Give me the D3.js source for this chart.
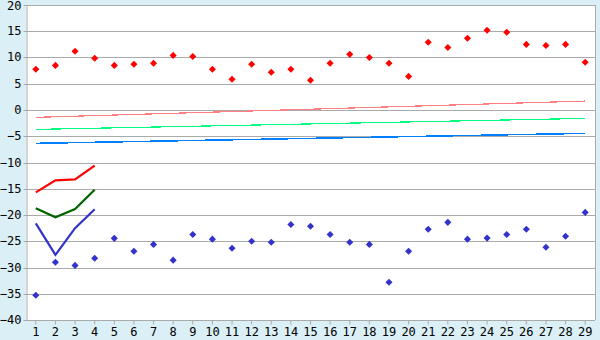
<!DOCTYPE html>
<html>
<head>
<meta charset="utf-8">
<script src="https://cdn.jsdelivr.net/npm/d3@7"></script>
<style>
  body { margin: 0; background: #daeff6; }
  svg { display: block; }
  .tick text { font-family: "DejaVu Sans Mono", monospace; font-size: 12px; fill: #000; }
</style>
</head>
<body>
<div id="chart"></div>
<script>
const width = 600;
const height = 340;
const margin = { top: 5, right: 5, bottom: 20, left: 26 };

const days = d3.range(1, 30);
const yTicks = [-40, -35, -30, -25, -20, -15, -10, -5, 0, 5, 10, 15, 20];

const redPoints = [7.75, 8.5, 11.2, 9.85, 8.5, 8.7, 8.9, 10.4, 10.2, 7.75,
    5.85, 8.7, 7.2, 7.75, 5.65, 8.9, 10.6, 10.0, 8.9, 6.4,
    12.9, 11.9, 13.65, 15.2, 14.8, 12.5, 12.3, 12.5, 9.1];
const bluePoints = [-35.3, -29.0, -29.6, -28.25, -24.45, -26.9, -25.6, -28.6, -23.7, -24.6,
    -26.35, -25.0, -25.2, -21.8, -22.15, -23.7, -25.2, -25.6, -32.8, -26.9,
    -22.7, -21.4, -24.6, -24.4, -23.7, -22.7, -26.15, -24.05, -19.5];

// short thick lines over days 1-4
const shortDays = [1, 2, 3, 4];
const redShort = [-15.7, -13.4, -13.2, -10.6];
const greenShort = [-18.7, -20.45, -18.85, -15.2];
const blueShort = [-21.6, -27.6, -22.5, -18.9];

// trend lines, first and last day
const trendDays = [1, 29];
const redTrend = [-1.4, 1.7];
const greenTrend = [-3.7, -1.6];
const blueTrend = [-6.35, -4.45];

const svg = d3.select("#chart")
    .append("svg")
    .attr("width", width)
    .attr("height", height);

const x = d3.scaleBand()
    .domain(days)
    .range([margin.left, width - margin.right]);
const y = d3.scaleLinear()
    .domain([-40, 20])
    .range([height - margin.bottom, margin.top]);
const cx = d => x(d) + x.bandwidth() / 2;

svg.append("rect")
    .attr("x", margin.left)
    .attr("y", margin.top)
    .attr("width", width - margin.left - margin.right)
    .attr("height", height - margin.top - margin.bottom)
    .attr("fill", "#fff");

// grid
svg.append("g")
    .selectAll("line")
    .data(yTicks)
    .enter().append("line")
    .attr("x1", margin.left)
    .attr("x2", width - margin.right)
    .attr("y1", d => Math.round(y(d)) + 0.5)
    .attr("y2", d => Math.round(y(d)) + 0.5)
    .attr("stroke", "#aaa");

svg.append("line")
    .attr("x1", width - margin.right + 0.5)
    .attr("x2", width - margin.right + 0.5)
    .attr("y1", margin.top)
    .attr("y2", height - margin.bottom)
    .attr("stroke", "#aaa");

const yAxis = svg.append("g")
    .attr("transform", `translate(${margin.left + 0.5},0)`)
    .call(d3.axisLeft(y).tickValues(yTicks).tickSize(3).tickSizeOuter(0).tickPadding(2));
yAxis.selectAll("line, path").attr("stroke", "#aaa");
yAxis.selectAll(".tick").attr("transform", d => `translate(0,${Math.round(y(d)) + 0.5})`);
yAxis.selectAll(".tick text").attr("dy", d => d === 20 ? "0.4em" : "0.32em");

const xAxis = svg.append("g")
    .attr("transform", `translate(0,${height - margin.bottom + 0.5})`)
    .call(d3.axisBottom(x).tickSize(4).tickSizeOuter(0).tickPadding(3));
xAxis.selectAll("line, path").attr("stroke", "#aaa");
xAxis.select(".domain").remove();

const line = d3.line().x(d => cx(d[0])).y(d => y(d[1]));

function drawLine(xs, ys, color, w, crisp) {
    svg.append("path")
        .datum(xs.map((d, i) => [d, ys[i]]))
        .attr("d", line)
        .attr("fill", "none")
        .attr("stroke", color)
        .attr("stroke-width", w)
        .attr("shape-rendering", crisp ? "crispEdges" : "auto");
}

drawLine(trendDays, redTrend, "#ff8080", 1.2, true);
drawLine(trendDays, greenTrend, "#00ff80", 1.2, true);
drawLine(trendDays, blueTrend, "#0080ff", 1.5, true);

drawLine(shortDays, redShort, "#ff0000", 2.2, false);
drawLine(shortDays, greenShort, "#006400", 2.2, false);
drawLine(shortDays, blueShort, "#3333cc", 2.2, false);

// compact diamond: a square turned 45 degrees
const marker = d3.symbol().type(d3.symbolSquare).size(25);

function drawPoints(vals, color) {
    svg.append("g")
        .selectAll("path")
        .data(vals)
        .enter().append("path")
        .attr("d", marker)
        .attr("transform", (d, i) => `translate(${cx(days[i])},${y(d)}) rotate(45)`)
        .attr("fill", color);
}

drawPoints(redPoints, "#ff0000");
drawPoints(bluePoints, "#3333cc");
</script>
</body>
</html>
